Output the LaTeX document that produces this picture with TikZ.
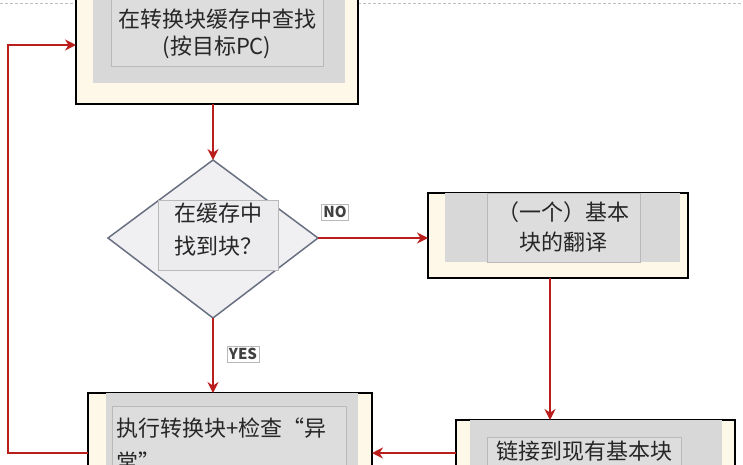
\documentclass[tikz,border=0pt]{standalone}
\usepackage{fontspec}
\setmainfont{Noto Sans CJK SC}
\usetikzlibrary{arrows.meta}
\definecolor{arr}{RGB}{185,30,28}
\definecolor{cream}{RGB}{253,248,231}
\definecolor{gbox}{RGB}{216,216,216}
\definecolor{tbox}{RGB}{221,221,221}
\definecolor{tline}{RGB}{185,185,185}
\definecolor{dia}{RGB}{240,240,243}
\definecolor{dinner}{RGB}{236,236,238}
\definecolor{dline}{RGB}{105,112,130}
\tikzset{
  outerbox/.style={draw=black,line width=2.8pt,fill=cream},
  graybox/.style={fill=gbox},
  txtbox/.style={draw=tline,fill=tbox,line width=0.6pt},
  conn/.style={draw=arr,line width=2.4pt,-{Stealth[length=11pt,width=11pt]}},
  lbl/.style={draw=tline,fill=white,inner sep=2pt,font=\fontsize{15}{15}\selectfont\bfseries,text=black!75},
  txt/.style={font=\fontsize{22}{22}\selectfont,text=black!85},
}
\begin{document}
\begin{tikzpicture}[x=1pt,y=-1pt]
\useasboundingbox (0,0) rectangle (743,464);
\begin{scope}
\clip (0,0) rectangle (743,464);
\draw[densely dashed,draw=black!25,line width=0.8pt] (0,3) -- (76,3) (358,3) -- (743,3);
% top box
\path[outerbox] (76,-10) rectangle (358,104);
\path[graybox] (93,-10) rectangle (345,83);
\path[txtbox] (111,-10) rectangle (323,66);
\node[txt] (t1) at (217,19) {在转换块缓存中查找};
\node[txt] (t2) at (217,47) {(按目标PC)};
\coordinate (topS) at (213,104);
\coordinate (topW) at (76,45);
% diamond
\path[draw=dline,fill=dia,line width=1.5pt] (213,160) -- (318,238) -- (213,318) -- (108,238) -- cycle;
\path[draw=tline,fill=dinner,line width=0.5pt] (158,200) rectangle (278,270);
\node[txt] (d1) at (218,213) {在缓存中};
\node[txt] (d2) at (218,246) {找到块？};
\coordinate (dN) at (213,160);
\coordinate (dE) at (318,238);
\coordinate (dS) at (213,318);
% right box
\path[outerbox] (428,193) rectangle (688,278);
\path[graybox] (445,193) rectangle (680,262);
\path[txtbox] (487,193) rectangle (640,262);
\node[txt] (r1) at (563,212) {（一个）基本};
\node[txt] (r2) at (563,242) {块的翻译};
\coordinate (rW) at (428,238);
\coordinate (rS) at (550,278);
% bottom right
\path[outerbox] (456,420) rectangle (735,480);
\path[graybox] (470,420) rectangle (722,480);
\path[txtbox] (487,437) rectangle (681,480);
\node[txt] (br) at (584,451) {链接到现有基本块};
\coordinate (brN) at (550,420);
\coordinate (brW) at (456,453);
% bottom left
\path[outerbox] (88,393) rectangle (372,480);
\path[graybox] (106,393) rectangle (358,480);
\path[txtbox] (112,406) rectangle (346,480);
\node[txt,anchor=west] (bl1) at (113,428) {执行转换块+检查“异};
\node[txt,anchor=west] (bl2) at (113,462) {常”};
\coordinate (blN) at (213,393);
\coordinate (blE) at (372,453);
\coordinate (blW) at (88,453);
\coordinate (c1) at (8,453);
\coordinate (c2) at (8,45);
% connectors
\draw[conn] (topS) -- (dN);
\draw[conn] (dE) -- (rW);
\draw[conn] (dS) -- (blN);
\draw[conn] (rS) -- (brN);
\draw[conn] (brW) -- (blE);
\draw[conn] (blW) -- (c1) -- (c2) -- (topW);
\node[lbl] (no) at (335,212) {NO};
\node[lbl] (yes) at (243,354) {YES};
\end{scope}
\end{tikzpicture}
\end{document}
